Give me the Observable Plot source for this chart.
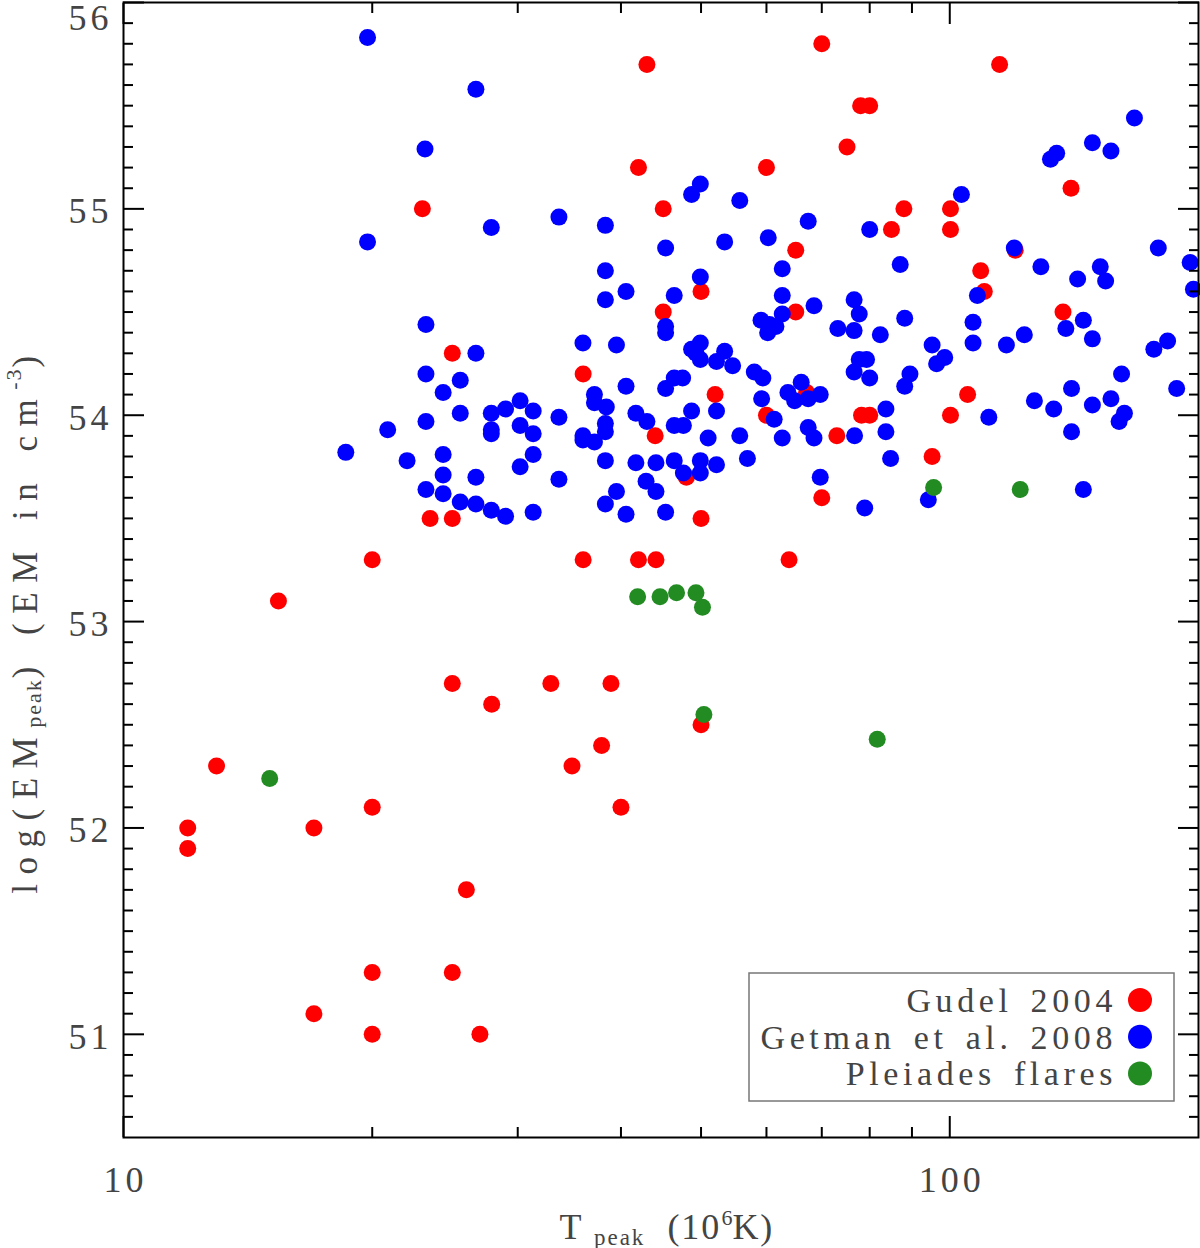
<!DOCTYPE html>
<html><head><meta charset="utf-8">
<script src="https://cdn.jsdelivr.net/npm/d3@7"></script>
<script src="https://cdn.jsdelivr.net/npm/@observablehq/plot@0.6"></script>
<style>body{margin:0;background:#fff}</style>
</head><body><div id="chart"></div>
<script>
// Gudel 2004 (red)
const gudelT = [23.0,25.0,36.0,23.5,25.0,20.0,36.0,75.1,42.0,60.0,45.0,85.0,88.0,65.1,50.0,45.0,65.1,67.1,52.0,60.0,78.2,80.0,73.0,44.0,48.0,50.0,70.0,100.2,100.2,120.0,140.2,109.0,110.1,137.1,105.1,100.2,95.2,43.0,70.0,114.9,78.0,80.0,15.4,42.0,44.1,63.9,25.0,32.9,38.9,27.9,37.9,34.9,50.0,40.0,20.0,12.96,11.96,11.96,17.0,26.0,20.0,25.0,17.0,20.0,27.0];
const gudelEM = [55.0,54.3,54.2,53.5,53.5,53.3,53.3,55.3,55.2,55.2,55.0,54.9,55.0,54.8,54.6,54.5,54.5,54.11,54.1,54.0,54.0,54.0,53.9,53.9,53.7,53.5,53.6,55.0,54.9,54.8,55.1,54.7,54.6,54.5,54.1,54.0,53.8,55.7,55.8,55.7,55.5,55.5,53.1,53.3,53.3,53.3,52.7,52.7,52.7,52.6,52.4,52.3,52.5,52.1,52.1,52.3,52.0,51.9,52.0,51.7,51.3,51.3,51.1,51.0,51.0];

// Getman et al. 2008 (blue)
const getmanT = [19.74,27.87,33.65,38.3,38.3,40.57,38.3,23.23,26.7,35.98,39.5,23.23,25.56,24.37,40.57,37.15,37.15,38.4,25.56,27.87,29.0,30.2,31.32,33.65,23.23,20.88,27.87,27.87,30.2,31.32,35.98,35.98,37.15,38.3,38.3,18.58,22.04,24.37,31.32,30.2,38.3,24.37,26.7,33.65,23.23,24.37,25.56,26.7,27.87,29.0,31.32,39.5,38.3,40.57,
 49.9,48.7,55.7,67.4,80.0,45.3,53.4,60.3,62.7,87.1,49.9,46.4,45.3,45.3,62.7,62.7,59.1,60.5,61.6,60.2,68.5,76.6,77.7,73.2,76.6,82.4,88.2,49.9,48.7,49.3,49.9,53.4,52.2,54.6,58.0,59.4,46.4,47.5,45.3,66.1,63.7,64.9,67.4,69.7,77.7,79.3,76.6,80.0,89.5,88.2,52.2,59.2,61.3,62.7,67.4,68.5,83.7,76.7,83.7,84.8,41.7,43.0,48.7,46.4,47.6,51.0,55.7,56.9,41.7,44.1,46.4,49.9,52.2,47.6,49.9,42.9,44.1,45.3,69.7,78.9,
 167.3,148.8,156.7,134.7,132.4,103.3,119.7,178.8,128.9,195.4,197.2,142.8,152.1,154.4,108.0,145.1,138.2,148.8,106.7,106.7,117.1,123.1,95.2,98.6,96.4,176.6,183.5,161.4,188.2,140.4,126.6,133.6,148.8,156.7,162.7,160.3,140.4,111.5,94.2,145.1,
 19.74,26.7,23.17];
const getmanEM = [54.84,54.91,54.96,54.92,54.70,54.60,54.56,54.44,54.30,54.35,54.34,54.20,54.17,54.11,54.14,54.10,54.06,54.04,54.01,54.01,54.03,54.07,54.02,53.99,53.97,53.93,53.93,53.91,53.95,53.91,53.90,53.88,53.87,53.96,53.92,53.82,53.78,53.81,53.81,53.75,53.78,53.71,53.70,53.69,53.64,53.62,53.58,53.57,53.54,53.51,53.53,53.63,53.57,53.52,
 55.12,55.07,55.04,54.94,54.90,54.81,54.84,54.86,54.71,54.73,54.67,54.58,54.43,54.40,54.58,54.49,54.46,54.44,54.43,54.40,54.53,54.56,54.49,54.42,54.41,54.39,54.47,54.35,54.32,54.30,54.27,54.31,54.26,54.24,54.21,54.18,54.18,54.18,54.13,54.16,54.11,54.07,54.08,54.10,54.27,54.27,54.21,54.18,54.20,54.14,54.02,54.08,53.98,53.89,53.94,53.89,54.03,53.90,53.92,53.79,54.01,53.97,54.02,53.95,53.95,53.89,53.90,53.79,53.77,53.77,53.78,53.78,53.76,53.72,53.72,53.68,53.63,53.53,53.70,53.55,
 55.44,55.32,55.28,55.27,55.24,55.07,54.81,54.81,54.72,54.74,54.61,54.66,54.72,54.65,54.58,54.46,54.42,54.37,54.45,54.35,54.34,54.39,54.34,54.28,54.25,54.32,54.36,54.20,54.13,54.13,54.07,54.03,54.05,54.08,54.01,53.97,53.92,53.99,53.59,53.64,
 55.83,55.58,55.29];

// Pleiades flares (green)
const pleiadesT = [41.9,44.6,46.7,49.3,50.2,50.4,81.7,15.03,95.6,121.7];
const pleiadesEM = [53.12,53.12,53.14,53.14,53.07,52.55,52.43,52.24,53.65,53.64];

const legendLabels = ["Gudel 2004", "Getman et al. 2008", "Pleiades flares"];
const seriesColors = ["#ff0000", "#0000ff", "#228b22"];

const xMajor = [10, 100];
const xMinor = [20, 30, 40, 50, 60, 70, 80, 90];
const yMajor = [51, 52, 53, 54, 55, 56];
const yMinor = d3.range(506, 560).filter(v => v % 10 !== 0).map(v => v / 10);

const toRows = (T, EM) => T.map((t, i) => ({T: t, EM: EM[i]}));
const gudel = toRows(gudelT, gudelEM);
const getman = toRows(getmanT, getmanEM);
const pleiades = toRows(pleiadesT, pleiadesEM);

const tickOpts = {fill: "none", stroke: "#000", strokeWidth: 2, label: null};
const fmt = d => String(d);

const plot = Plot.plot({
  width: 1200, height: 1248,
  marginLeft: 123, marginRight: 2, marginTop: 2, marginBottom: 111,
  x: {type: "log", domain: [10, 200], axis: null},
  y: {domain: [50.5, 56], axis: null},
  style: {fontFamily: "'Liberation Serif', serif", fontSize: "36px", color: "#000", background: "#fff", overflow: "visible", letterSpacing: "4px"},
  marks: [
    Plot.dot(gudel, {x: "T", y: "EM", r: 8.5, fill: seriesColors[0]}),
    Plot.dot(getman, {x: "T", y: "EM", r: 8.5, fill: seriesColors[1]}),
    Plot.dot(pleiades, {x: "T", y: "EM", r: 8.5, fill: seriesColors[2]}),
    Plot.frame({stroke: "#000", strokeWidth: 2}),
    Plot.axisY(yMajor, {anchor: "left", tickSize: -21, ...tickOpts}),
    Plot.axisY(yMinor, {anchor: "left", tickSize: -10, ...tickOpts}),
    Plot.axisY(yMajor, {anchor: "right", tickSize: -21, ...tickOpts}),
    Plot.axisY(yMinor, {anchor: "right", tickSize: -10, ...tickOpts}),
    Plot.axisX(xMajor, {anchor: "bottom", tickSize: -21, ...tickOpts}),
    Plot.axisX(xMinor, {anchor: "bottom", tickSize: -10, ...tickOpts}),
    Plot.axisX(xMajor, {anchor: "top", tickSize: -21, ...tickOpts}),
    Plot.axisX(xMinor, {anchor: "top", tickSize: -10, ...tickOpts}),
    Plot.axisY(yMajor.filter(v => v < 56), {anchor: "left", tickSize: 0, tickPadding: 11, dy: 3, fill: "#444", label: null, tickFormat: fmt}),
    Plot.axisY(yMajor.filter(v => v === 56), {anchor: "left", tickSize: 0, tickPadding: 11, lineAnchor: "top", dy: 2, fill: "#444", label: null, tickFormat: fmt}),
    Plot.axisX(xMajor, {anchor: "bottom", tickSize: 0, tickPadding: 29, fill: "#444", label: null, dx: 2, tickFormat: fmt})
  ]
});

document.getElementById("chart").appendChild(plot);
const svg = d3.select(plot);

// Y axis label
const yl = svg.append("text")
  .attr("transform", "translate(25,620) rotate(-90)")
  .attr("text-anchor", "middle")
  .attr("dominant-baseline", "central")
  .attr("fill", "#444")
  .style("font-size", "35px")
  .style("letter-spacing", "9.5px")
  .style("word-spacing", "4px");
yl.append("tspan").text("log(EM");
yl.append("tspan").attr("dy", 8).style("font-size", "22px").style("letter-spacing", "2px").text("peak");
yl.append("tspan").attr("dy", -8).text(") (EM in cm");
yl.append("tspan").attr("dy", -12).style("font-size", "22px").style("letter-spacing", "2px").text("-3");
yl.append("tspan").attr("dy", 12).text(")");

// X axis label
const xl = svg.append("text")
  .attr("x", 667).attr("y", 1239)
  .attr("text-anchor", "middle")
  .attr("fill", "#444")
  .style("font-size", "36px")
  .style("letter-spacing", "2px");
xl.append("tspan").text("T ");
xl.append("tspan").attr("dy", 6).style("font-size", "23px").style("letter-spacing", "2px").text("peak");
xl.append("tspan").attr("dy", -6).text("  (10");
xl.append("tspan").attr("dy", -14).style("font-size", "22px").style("letter-spacing", "0px").text("6");
xl.append("tspan").attr("dy", 14).text("K)");

// Legend
const lg = svg.append("g");
lg.append("rect").attr("x", 749).attr("y", 973).attr("width", 425).attr("height", 128)
  .attr("fill", "#fff").attr("stroke", "#777").attr("stroke-width", 1.5);
legendLabels.forEach((name, i) => {
  const cy = 1000 + i * 36.7;
  lg.append("text").attr("x", 1117).attr("y", cy + 12)
    .attr("text-anchor", "end").attr("fill", "#444")
    .style("font-size", "34px").style("letter-spacing", "4.6px").style("word-spacing", "5px")
    .text(name);
  lg.append("circle").attr("cx", 1140).attr("cy", cy).attr("r", 12).attr("fill", seriesColors[i]);
});
</script>
</body></html>
